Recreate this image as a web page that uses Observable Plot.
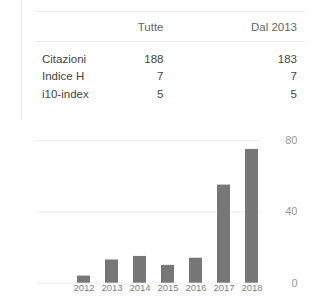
<!DOCTYPE html>
<html>
<head>
<meta charset="utf-8">
<script src="https://cdn.jsdelivr.net/npm/d3@7"></script>
<script src="https://cdn.jsdelivr.net/npm/@observablehq/plot@0.6"></script>
<style>
  html, body { margin: 0; padding: 0; background: #fff; }
  body { width: 312px; height: 298px; overflow: hidden; position: relative; font-family: "Liberation Sans", Arial, sans-serif; }
  #vline { position: absolute; left: 21px; top: 0; width: 1px; height: 298px; background: #f0f0f0; }
  #tbl { position: absolute; left: 36px; top: 11px; width: 269px; border-collapse: collapse; font-size: 11.5px; color: #444; }
  #tbl th { font-weight: normal; color: #666; text-align: right; height: 29px; padding: 0; border-top: 1px solid #eaeaea; border-bottom: 1px solid #eaeaea; }
  #tbl td { padding: 0; height: 17.6px; text-align: right; }
  #tbl td.lab { text-align: left; padding-left: 6px; }
  #tbl tr.first td { padding-top: 8px; }
  #chart { position: absolute; left: 0; top: 120px; }
</style>
</head>
<body>
<div id="vline"></div>
<table id="tbl">
  <thead><tr id="hdr"></tr></thead>
  <tbody id="rows"></tbody>
</table>
<div id="chart"></div>
<script>
const headers = ["", "Tutte", "Dal 2013"];
const metrics = ["Citazioni", "Indice H", "i10-index"];
const allValues = [188, 7, 5];
const since2013Values = [183, 7, 5];

const years = ["2012", "2013", "2014", "2015", "2016", "2017", "2018"];
const citations = [4, 13, 15, 10, 14, 55, 75];
const yTicks = [0, 40, 80];

// table
const hdr = document.getElementById("hdr");
headers.forEach((h, i) => {
  const th = document.createElement("th");
  th.textContent = h;
  if (i === 0) th.style.width = "60px";
  if (i === 2) th.style.paddingRight = "8px";
  hdr.appendChild(th);
});
const rows = document.getElementById("rows");
metrics.forEach((m, i) => {
  const tr = document.createElement("tr");
  if (i === 0) tr.className = "first";
  const a = document.createElement("td"); a.className = "lab"; a.textContent = m;
  const b = document.createElement("td"); b.textContent = allValues[i];
  const c = document.createElement("td"); c.textContent = since2013Values[i]; c.style.paddingRight = "8px";
  tr.append(a, b, c);
  rows.appendChild(tr);
});

const data = years.map((y, i) => ({year: y, value: citations[i]}));

const chart = Plot.plot({
  width: 312,
  height: 178,
  marginLeft: 36,
  marginRight: 51,
  marginTop: 20,
  marginBottom: 15.3,
  style: {fontFamily: "Liberation Sans, Arial, sans-serif", background: "#fff"},
  x: {domain: years, range: [66.3, 267.7], paddingInner: 0.54, paddingOuter: 0.27, label: null},
  y: {domain: [0, 80], label: null},
  marks: [
    Plot.ruleY(yTicks, {stroke: "#eeeeee", strokeWidth: 1}),
    Plot.barY(data, {x: "year", y: "value", fill: "#777777"}),
    Plot.axisX({tickSize: 0, tickPadding: 1, fontSize: 9.5, fill: "#808080", label: null}),
    Plot.axisY({ticks: yTicks, anchor: "right", tickSize: 0, tickPadding: 0, textAnchor: "end", dx: 36, fontSize: 11, fill: "#999", label: null})
  ]
});
document.getElementById("chart").appendChild(chart);
</script>
</body>
</html>
